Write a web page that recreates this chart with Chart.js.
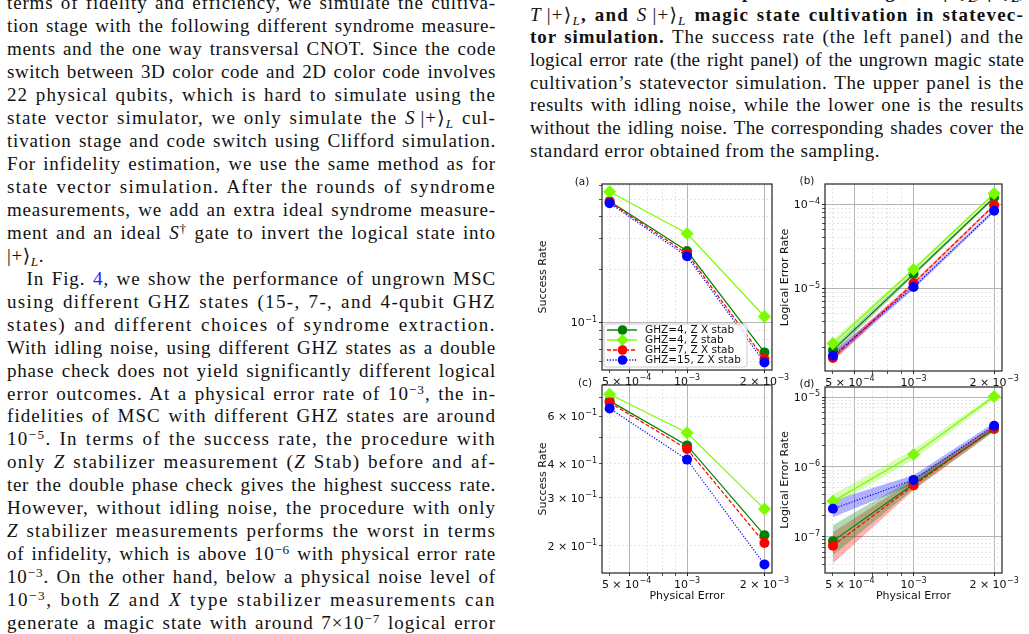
<!DOCTYPE html>
<html>
<head>
<meta charset="utf-8">
<script src="https://cdn.jsdelivr.net/npm/chart.js@4.4.0/dist/chart.umd.min.js"></script>
<style>
html, body { margin: 0; padding: 0; background: #fff; }
body { width: 1029px; height: 634px; overflow: hidden; position: relative; color: #111;
  font-family: "Liberation Serif", "DejaVu Serif", serif; }
.ln { position: absolute; font-size: 19px; line-height: 23px; white-space: nowrap; }
sup { font-size: 0.7em; vertical-align: 0.48em; line-height: 0; }
sub { font-size: 0.7em; vertical-align: -0.3em; line-height: 0; }
.ref { color: #1a1aff; }
canvas { position: absolute; }
.plab { position: absolute; font: 10.5px "DejaVu Sans", sans-serif; color: #111; transform: translate(-50%, -50%); }
</style>
</head>
<body>
<div id="text"></div>

<canvas id="panelA" width="264" height="222" style="left:528px;top:168px"></canvas>
<canvas id="panelB" width="252" height="223" style="left:770px;top:168px"></canvas>
<canvas id="panelC" width="264" height="241" style="left:528px;top:369px"></canvas>
<canvas id="panelD" width="252" height="239" style="left:770px;top:371px"></canvas>

<div class="plab" style="left:582px;top:181px">(a)</div>
<div class="plab" style="left:807px;top:180px">(b)</div>
<div class="plab" style="left:585px;top:382px">(c)</div>
<div class="plab" style="left:807px;top:383px">(d)</div>

<script>
// DATA
const physErr = [5e-4, 1e-3, 2e-3];
const seriesNames = ['GHZ=4, Z X stab', 'GHZ=4, Z stab', 'GHZ=7, Z X stab', 'GHZ=15, Z X stab'];

// (a) success rate, idling noise
const successIdle = [
  [0.491, 0.255, 0.0674],
  [0.556, 0.321, 0.108],
  [0.485, 0.246, 0.0618],
  [0.478, 0.238, 0.059]
];
// (b) logical error rate, idling noise
const errorIdle = [
  [1.84e-6, 1.48e-5, 1.21e-4],
  [2.21e-6, 1.68e-5, 1.35e-4],
  [1.49e-6, 1.15e-5, 9.8e-5],
  [1.58e-6, 1.04e-5, 8.4e-5]
];
const errorIdleLo = [
  [1.66e-6, 1.40e-5, 1.16e-4],
  [2.00e-6, 1.60e-5, 1.30e-4],
  [1.34e-6, 1.09e-5, 9.4e-5],
  [1.42e-6, 0.98e-5, 8.0e-5]
];
const errorIdleHi = [
  [2.04e-6, 1.57e-5, 1.26e-4],
  [2.45e-6, 1.77e-5, 1.40e-4],
  [1.66e-6, 1.21e-5, 1.02e-4],
  [1.76e-6, 1.10e-5, 8.8e-5]
];
// (c) success rate, no idling noise
const successNoIdle = [
  [0.682, 0.468, 0.219],
  [0.721, 0.521, 0.273],
  [0.672, 0.454, 0.205],
  [0.640, 0.415, 0.171]
];
// (d) logical error rate, no idling noise
const errorNoIdle = [
  [8.6e-8, 5.67e-7, 3.5e-6],
  [3.2e-7, 1.5e-6, 1.02e-5],
  [7.4e-8, 5.4e-7, 3.6e-6],
  [2.5e-7, 6.5e-7, 3.9e-6]
];
const errorNoIdleLo = [
  [5.4e-8, 4.8e-7, 3.2e-6],
  [2.8e-7, 1.28e-6, 9.4e-6],
  [4.1e-8, 4.6e-7, 3.25e-6],
  [1.9e-7, 5.6e-7, 3.5e-6]
];
const errorNoIdleHi = [
  [1.45e-7, 6.9e-7, 3.85e-6],
  [4.0e-7, 1.78e-6, 1.1e-5],
  [1.15e-7, 6.5e-7, 3.95e-6],
  [3.28e-7, 7.6e-7, 4.3e-6]
];

// TICKS (labels written as base^exponent)
const xTicks = [5e-4, 6e-4, 7e-4, 8e-4, 9e-4, 1e-3, 2e-3];
const xMajor = [6e-4, 1e-3, 2e-3];
const xLabelVals = [5e-4, 1e-3, 2e-3];
const xLabelTexts = ['5 \u00d7 10^\u22124', '10^\u22123', '2 \u00d7 10^\u22123'];
const xLabelNudge = [17, 0, 0];

const yTicksA = [0.06, 0.07, 0.08, 0.09, 0.1, 0.2, 0.3, 0.4, 0.5, 0.6];
const yLabelValsA = [0.1];
const yLabelTextsA = ['10^\u22121'];

const yTicksB = [2e-6, 3e-6, 4e-6, 5e-6, 6e-6, 7e-6, 8e-6, 9e-6, 1e-5,
  2e-5, 3e-5, 4e-5, 5e-5, 6e-5, 7e-5, 8e-5, 9e-5, 1e-4];
const yLabelValsB = [1e-5, 1e-4];
const yLabelTextsB = ['10^\u22125', '10^\u22124'];

const yTicksC = [0.2, 0.3, 0.4, 0.5, 0.6, 0.7];
const yLabelValsC = [0.2, 0.3, 0.4, 0.6];
const yLabelTextsC = ['2 \u00d7 10^\u22121', '3 \u00d7 10^\u22121', '4 \u00d7 10^\u22121', '6 \u00d7 10^\u22121'];

const yTicksD = [4e-8, 5e-8, 6e-8, 7e-8, 8e-8, 9e-8, 1e-7,
  2e-7, 3e-7, 4e-7, 5e-7, 6e-7, 7e-7, 8e-7, 9e-7, 1e-6,
  2e-6, 3e-6, 4e-6, 5e-6, 6e-6, 7e-6, 8e-6, 9e-6, 1e-5];
const yLabelValsD = [1e-7, 1e-6, 1e-5];
const yLabelTextsD = ['10^\u22127', '10^\u22126', '10^\u22125'];

// STYLES
const seriesColors = ['#008000', '#7cfc00', '#ff0000', '#0000ff'];
const bandColors = ['rgba(0,128,0,0.3)', 'rgba(124,252,0,0.3)', 'rgba(255,0,0,0.3)', 'rgba(0,0,255,0.3)'];
const seriesMarkers = ['circle', 'rectRot', 'circle', 'circle'];
const seriesDash = [[], [], [4, 2], [1.2, 1.6]];
const tickFont = { family: 'DejaVu Sans', size: 11 };

// HELPERS
const near = (a, b) => Math.abs(a - b) / b < 1e-6;
const toPts = vals => vals.map((y, i) => ({ x: physErr[i], y }));

function makeDatasets(values, lo, hi) {
  const sets = [];
  values.forEach((vals, i) => {
    if (lo) {
      sets.push({ data: toPts(hi[i]), borderColor: 'rgba(0,0,0,0)', borderWidth: 1, pointRadius: 0,
        fill: '+1', backgroundColor: bandColors[i], order: 10 });
      sets.push({ data: toPts(lo[i]), borderColor: 'rgba(0,0,0,0)', borderWidth: 1, pointRadius: 0,
        fill: false, order: 10 });
    }
    sets.push({
      label: seriesNames[i], data: toPts(vals),
      borderColor: seriesColors[i], backgroundColor: seriesColors[i],
      borderWidth: 1.2, borderDash: seriesDash[i],
      pointStyle: seriesMarkers[i], pointRadius: i === 1 ? 6.5 : 5, pointBorderWidth: 0,
      fill: false, order: 4 - i
    });
  });
  return sets;
}

function logAxis(o) {
  const isMaj = c => c.tick && o.major.some(m => near(c.tick.value, m));
  return {
    type: 'logarithmic', min: o.min, max: o.max,
    afterBuildTicks: s => { s.ticks = o.ticks.map(v => ({ value: v })); },
    afterFit: s => { if (o.w) s.width = o.w; if (o.h) s.height = o.h; },
    ticks: { autoSkip: false, maxRotation: 0, minRotation: 0, font: tickFont, callback: () => '' },
    grid: {
      color: c => isMaj(c) ? '#b4b4b4' : '#e0e0e0',
      lineWidth: c => isMaj(c) ? 1 : 0.8,
      tickColor: '#222', tickLength: 3, drawTicks: true
    },
    border: { display: false, dash: c => isMaj(c) ? [] : [2, 2] },
    title: o.title
      ? { display: true, text: o.title, color: '#111', font: tickFont, padding: o.titlePad }
      : { display: false }
  };
}

// draws "base^exp" like matplotlib mathtext
function drawPow(ctx, text, x, baseline, align) {
  const [base, exp] = text.split('^');
  ctx.font = '11px "DejaVu Sans"';
  const wb = ctx.measureText(base).width;
  ctx.font = '8px "DejaVu Sans"';
  const we = exp ? ctx.measureText(exp).width + 0.5 : 0;
  const w = wb + we;
  const x0 = align === 'right' ? x - w : x - w / 2;
  ctx.textBaseline = 'alphabetic';
  ctx.textAlign = 'left';
  ctx.font = '11px "DejaVu Sans"';
  ctx.fillText(base, x0, baseline);
  if (exp) {
    ctx.font = '8px "DejaVu Sans"';
    ctx.fillText(exp, x0 + wb + 0.5, baseline - 4.8);
  }
}

const panelYLabels = {
  panelA: [yLabelValsA, yLabelTextsA],
  panelB: [yLabelValsB, yLabelTextsB],
  panelC: [yLabelValsC, yLabelTextsC],
  panelD: [yLabelValsD, yLabelTextsD]
};

const framePlugin = {
  id: 'frameAndLegend',
  afterDatasetsDraw(chart, args, opts) {
    const { ctx, chartArea: a } = chart;
    ctx.save();
    ctx.strokeStyle = '#222';
    ctx.lineWidth = 1.2;
    ctx.strokeRect(a.left, a.top, a.right - a.left, a.bottom - a.top);
    if (opts.legend) {
      const x0 = a.left + 2, y0 = a.bottom - 46, w = 143, h = 43;
      ctx.fillStyle = 'rgba(255,255,255,0.8)';
      ctx.strokeStyle = '#cccccc';
      ctx.lineWidth = 1;
      ctx.beginPath();
      ctx.roundRect(x0, y0, w, h, 2);
      ctx.fill();
      ctx.stroke();
      seriesNames.forEach((name, i) => {
        const y = a.bottom - 40 + i * 10;
        const mx = a.left + 20.5;
        ctx.strokeStyle = seriesColors[i];
        ctx.fillStyle = seriesColors[i];
        ctx.lineWidth = 1.4;
        ctx.setLineDash(seriesDash[i]);
        ctx.beginPath();
        ctx.moveTo(a.left + 5, y);
        ctx.lineTo(a.left + 35, y);
        ctx.stroke();
        ctx.setLineDash([]);
        ctx.beginPath();
        if (seriesMarkers[i] === 'rectRot') {
          ctx.moveTo(mx, y - 6); ctx.lineTo(mx + 6, y); ctx.lineTo(mx, y + 6); ctx.lineTo(mx - 6, y);
          ctx.closePath();
        } else {
          ctx.arc(mx, y, 4.8, 0, Math.PI * 2);
        }
        ctx.fill();
        ctx.fillStyle = '#111';
        ctx.font = '10.5px "DejaVu Sans"';
        ctx.textBaseline = 'middle';
        ctx.fillText(name, a.left + 43, y + 0.5);
      });
    }
    ctx.restore();
  },
  afterDraw(chart) {
    const { ctx, chartArea: a, scales } = chart;
    ctx.save();
    ctx.fillStyle = '#111';
    xLabelVals.forEach((v, i) => {
      drawPow(ctx, xLabelTexts[i], scales.x.getPixelForValue(v) + xLabelNudge[i], a.bottom + 14.5, 'center');
    });
    const [vals, texts] = panelYLabels[chart.canvas.id];
    vals.forEach((v, i) => {
      drawPow(ctx, texts[i], a.left - 5, scales.y.getPixelForValue(v) + 4, 'right');
    });
    ctx.restore();
  }
};

function makePanel(id, datasets, yOpts, xOpts, legend) {
  return new Chart(document.getElementById(id), {
    type: 'line',
    data: { datasets },
    options: {
      responsive: false, animation: false, events: [],
      layout: { padding: { top: 16, right: 20, left: 0, bottom: 0 } },
      elements: { line: { tension: 0 } },
      plugins: { legend: { display: false }, tooltip: { enabled: false }, frameAndLegend: { legend } },
      scales: { x: logAxis(xOpts), y: logAxis(yOpts) }
    },
    plugins: [framePlugin]
  });
}

const xBase = { min: 4.67e-4, max: 2.14e-3, ticks: xTicks, major: xMajor };
const xTop = Object.assign({}, xBase, { h: 20 });
const xBottom = Object.assign({}, xBase, { h: 37, title: 'Physical Error', titlePad: { top: 0, bottom: 7 } });

makePanel('panelA', makeDatasets(successIdle),
  { min: 0.0535, max: 0.615, ticks: yTicksA, major: [0.1],
    w: 74, title: 'Success Rate', titlePad: { top: 8.4, bottom: 0 } }, xTop, true);

makePanel('panelB', makeDatasets(errorIdle, errorIdleLo, errorIdleHi),
  { min: 1.04e-6, max: 1.75e-4, ticks: yTicksB, major: [1e-5, 1e-4],
    w: 55, title: 'Logical Error Rate', titlePad: { top: 8.4, bottom: 0 } }, xTop, false);

makePanel('panelC', makeDatasets(successNoIdle),
  { min: 0.159, max: 0.78, ticks: yTicksC, major: [],
    w: 74, title: 'Success Rate', titlePad: { top: 8.4, bottom: 0 } }, xBottom, false);

makePanel('panelD', makeDatasets(errorNoIdle, errorNoIdleLo, errorNoIdleHi),
  { min: 3.14e-8, max: 1.4e-5, ticks: yTicksD, major: [1e-7, 1e-6, 1e-5],
    w: 55, title: 'Logical Error Rate', titlePad: { top: 8.4, bottom: 0 } }, xBottom, false);

// PAGE TEXT
const ket = '|+\u27e9<sub><i>L</i></sub>';
const leftLines = [
  'terms of fidelity and efficiency, we simulate the cultiva-',
  'tion stage with the following different syndrome measure-',
  'ments and the one way transversal CNOT. Since the code',
  'switch between 3D color code and 2D color code involves',
  '22 physical qubits, which is hard to simulate using the',
  'state vector simulator, we only simulate the <i>S</i>\u2009' + ket + ' cul-',
  'tivation stage and code switch using Clifford simulation.',
  'For infidelity estimation, we use the same method as for',
  'state vector simulation. After the rounds of syndrome',
  'measurements, we add an extra ideal syndrome measure-',
  'ment and an ideal <i>S</i><sup>\u2020</sup> gate to invert the logical state into',
  ket + '.',
  'In Fig. <span class="ref">4</span>, we show the performance of ungrown MSC',
  'using different GHZ states (15-, 7-, and 4-qubit GHZ',
  'states) and different choices of syndrome extraction.',
  'With idling noise, using different GHZ states as a double',
  'phase check does not yield significantly different logical',
  'error outcomes. At a physical error rate of 10<sup>\u22123</sup>, the in-',
  'fidelities of MSC with different GHZ states are around',
  '10<sup>\u22125</sup>. In terms of the success rate, the procedure with',
  'only <i>Z</i> stabilizer measurement (<i>Z</i> Stab) before and af-',
  'ter the double phase check gives the highest success rate.',
  'However, without idling noise, the procedure with only',
  '<i>Z</i> stabilizer measurements performs the worst in terms',
  'of infidelity, which is above 10<sup>\u22126</sup> with physical error rate',
  '10<sup>\u22123</sup>. On the other hand, below a physical noise level of',
  '10<sup>\u22123</sup>, both <i>Z</i> and <i>X</i> type stabilizer measurements can',
  'generate a magic state with around 7\u00d710<sup>\u22127</sup> logical error'
];
const rightLines = [
  '<b>FIG. 4. Performance comparison of the ungrown |<i>Y</i>\u27e9<sub><i>L</i></sub>, |+\u27e9<sub><i>L</i></sub>,</b>',
  '<i>T</i>\u2009' + ket + '<b>, and </b><i>S</i>\u2009' + ket + '<b> magic state cultivation in statevec-</b>',
  '<b>tor simulation.</b> The success rate (the left panel) and the',
  'logical error rate (the right panel) of the ungrown magic state',
  'cultivation\u2019s statevector simulation. The upper panel is the',
  'results with idling noise, while the lower one is the results',
  'without the idling noise. The corresponding shades cover the',
  'standard error obtained from the sampling.'
];

const textBox = document.getElementById('text');
function placeLine(html, left, width, baseline, justify) {
  const el = document.createElement('div');
  el.className = 'ln';
  el.style.left = left + 'px';
  el.innerHTML = '<span class="t">' + html + '</span><span class="bm" style="display:inline-block;width:0;height:0"></span>';
  textBox.appendChild(el);
  const t = el.querySelector('.t');
  const spaces = (t.textContent.match(/ /g) || []).length;
  const chars = t.textContent.length;
  if (justify) {
    // spread the slack mostly over letters (Computer Modern is wider than Times), rest over spaces
    const slack = width - t.getBoundingClientRect().width;
    const ls = Math.max(0, (slack - spaces * 1.8) / chars);
    t.style.letterSpacing = ls + 'px';
    const slack2 = width - t.getBoundingClientRect().width;
    if (spaces) t.style.wordSpacing = (slack2 / spaces) + 'px';
  } else {
    t.style.letterSpacing = '0.6px';
  }
  const off = el.querySelector('.bm').getBoundingClientRect().bottom - el.getBoundingClientRect().top;
  el.style.top = (baseline - off) + 'px';
}

leftLines.forEach((html, k) => {
  const indent = k === 12 ? 19.5 : 0;
  placeLine(html, 7 + indent, 489 - indent, 9.35 + 22.95 * k, k !== 11);
});
rightLines.forEach((html, j) => {
  placeLine(html, 530, 494, -2 + 22.67 * j, j !== 7);
});
</script>
</body>
</html>
